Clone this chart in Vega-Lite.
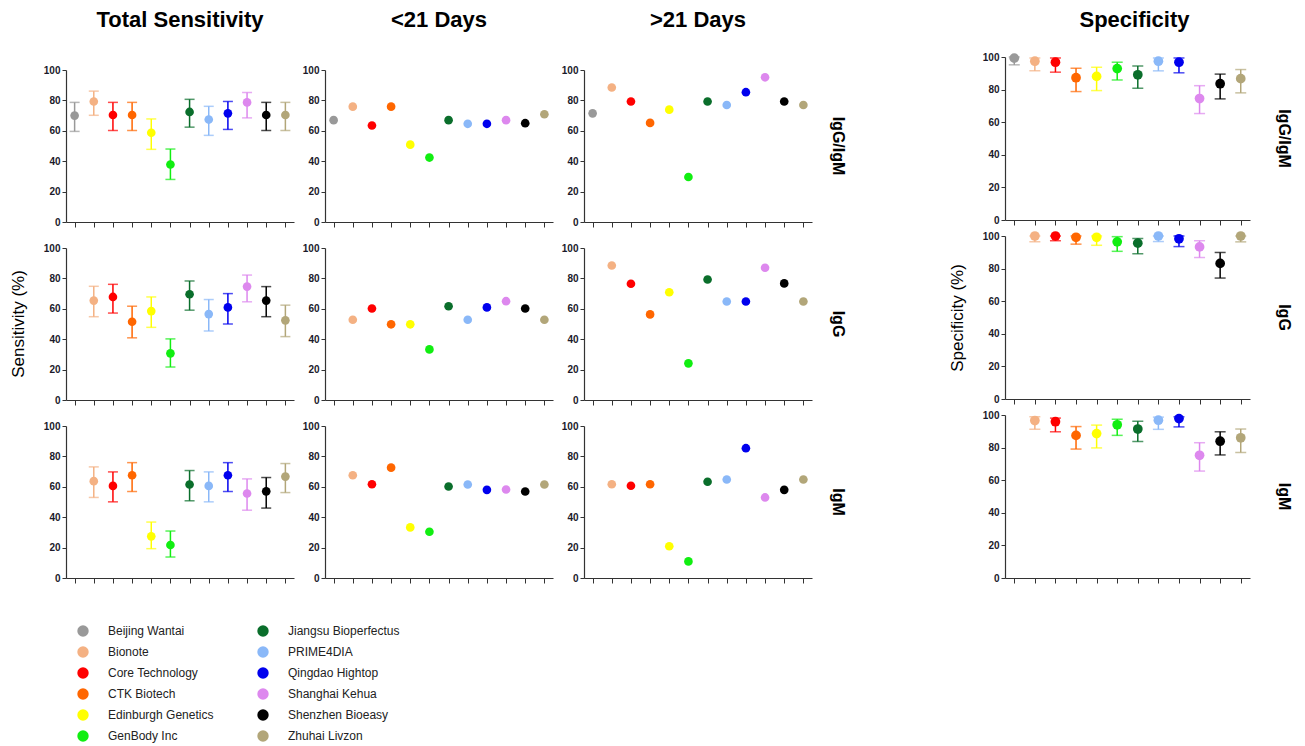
{
  "$schema": "https://vega.github.io/schema/vega-lite/v6.json",
  "background": "white",
  "padding": {"left": 9, "top": 9, "right": 5, "bottom": 5},
  "datasets": {
    "d": [
      {"m":"Beijing Wantai","a":"IgG/IgM","p":"Total Sensitivity","v":70,"lo":59.6,"hi":78.7},
      {"m":"Bionote","a":"IgG/IgM","p":"Total Sensitivity","v":79.3,"lo":70.2,"hi":86.1},
      {"m":"Core Technology","a":"IgG/IgM","p":"Total Sensitivity","v":70.4,"lo":60.2,"hi":78.7},
      {"m":"CTK Biotech","a":"IgG/IgM","p":"Total Sensitivity","v":70.4,"lo":60.2,"hi":78.7},
      {"m":"Edinburgh Genetics","a":"IgG/IgM","p":"Total Sensitivity","v":58.7,"lo":47.8,"hi":67.8},
      {"m":"GenBody Inc","a":"IgG/IgM","p":"Total Sensitivity","v":37.8,"lo":28,"hi":48},
      {"m":"Jiangsu Bioperfectus","a":"IgG/IgM","p":"Total Sensitivity","v":72.4,"lo":62.4,"hi":80.7},
      {"m":"PRIME4DIA","a":"IgG/IgM","p":"Total Sensitivity","v":67.4,"lo":57,"hi":76.1},
      {"m":"Qingdao Hightop","a":"IgG/IgM","p":"Total Sensitivity","v":71.5,"lo":60.9,"hi":79.3},
      {"m":"Shanghai Kehua","a":"IgG/IgM","p":"Total Sensitivity","v":78.7,"lo":68.5,"hi":85.2},
      {"m":"Shenzhen Bioeasy","a":"IgG/IgM","p":"Total Sensitivity","v":70.4,"lo":60.2,"hi":78.7},
      {"m":"Zhuhai Livzon","a":"IgG/IgM","p":"Total Sensitivity","v":70.4,"lo":60.2,"hi":78.7},

      {"m":"Beijing Wantai","a":"IgG/IgM","p":"<21 Days","v":67},
      {"m":"Bionote","a":"IgG/IgM","p":"<21 Days","v":75.9},
      {"m":"Core Technology","a":"IgG/IgM","p":"<21 Days","v":63.5},
      {"m":"CTK Biotech","a":"IgG/IgM","p":"<21 Days","v":75.9},
      {"m":"Edinburgh Genetics","a":"IgG/IgM","p":"<21 Days","v":50.9},
      {"m":"GenBody Inc","a":"IgG/IgM","p":"<21 Days","v":42.4},
      {"m":"Jiangsu Bioperfectus","a":"IgG/IgM","p":"<21 Days","v":67},
      {"m":"PRIME4DIA","a":"IgG/IgM","p":"<21 Days","v":64.6},
      {"m":"Qingdao Hightop","a":"IgG/IgM","p":"<21 Days","v":64.6},
      {"m":"Shanghai Kehua","a":"IgG/IgM","p":"<21 Days","v":67},
      {"m":"Shenzhen Bioeasy","a":"IgG/IgM","p":"<21 Days","v":65},
      {"m":"Zhuhai Livzon","a":"IgG/IgM","p":"<21 Days","v":70.9},

      {"m":"Beijing Wantai","a":"IgG/IgM","p":">21 Days","v":71.5},
      {"m":"Bionote","a":"IgG/IgM","p":">21 Days","v":88.5},
      {"m":"Core Technology","a":"IgG/IgM","p":">21 Days","v":79.3},
      {"m":"CTK Biotech","a":"IgG/IgM","p":">21 Days","v":65.2},
      {"m":"Edinburgh Genetics","a":"IgG/IgM","p":">21 Days","v":73.9},
      {"m":"GenBody Inc","a":"IgG/IgM","p":">21 Days","v":29.6},
      {"m":"Jiangsu Bioperfectus","a":"IgG/IgM","p":">21 Days","v":79.3},
      {"m":"PRIME4DIA","a":"IgG/IgM","p":">21 Days","v":77},
      {"m":"Qingdao Hightop","a":"IgG/IgM","p":">21 Days","v":85.4},
      {"m":"Shanghai Kehua","a":"IgG/IgM","p":">21 Days","v":95.2},
      {"m":"Shenzhen Bioeasy","a":"IgG/IgM","p":">21 Days","v":79.3},
      {"m":"Zhuhai Livzon","a":"IgG/IgM","p":">21 Days","v":77},

      {"m":"Bionote","a":"IgG","p":"Total Sensitivity","v":65.4,"lo":54.8,"hi":74.8},
      {"m":"Core Technology","a":"IgG","p":"Total Sensitivity","v":67.8,"lo":57.2,"hi":76.1},
      {"m":"CTK Biotech","a":"IgG","p":"Total Sensitivity","v":51.5,"lo":40.9,"hi":61.7},
      {"m":"Edinburgh Genetics","a":"IgG","p":"Total Sensitivity","v":58.5,"lo":47.8,"hi":67.8},
      {"m":"GenBody Inc","a":"IgG","p":"Total Sensitivity","v":30.7,"lo":21.7,"hi":40.2},
      {"m":"Jiangsu Bioperfectus","a":"IgG","p":"Total Sensitivity","v":69.6,"lo":59.1,"hi":78.3},
      {"m":"PRIME4DIA","a":"IgG","p":"Total Sensitivity","v":56.5,"lo":45.4,"hi":66.1},
      {"m":"Qingdao Hightop","a":"IgG","p":"Total Sensitivity","v":60.9,"lo":50,"hi":70},
      {"m":"Shanghai Kehua","a":"IgG","p":"Total Sensitivity","v":74.6,"lo":64.6,"hi":82.2},
      {"m":"Shenzhen Bioeasy","a":"IgG","p":"Total Sensitivity","v":65.4,"lo":54.8,"hi":74.6},
      {"m":"Zhuhai Livzon","a":"IgG","p":"Total Sensitivity","v":52.4,"lo":41.7,"hi":62.4},

      {"m":"Bionote","a":"IgG","p":"<21 Days","v":52.8},
      {"m":"Core Technology","a":"IgG","p":"<21 Days","v":60.2},
      {"m":"CTK Biotech","a":"IgG","p":"<21 Days","v":49.8},
      {"m":"Edinburgh Genetics","a":"IgG","p":"<21 Days","v":49.8},
      {"m":"GenBody Inc","a":"IgG","p":"<21 Days","v":33.3},
      {"m":"Jiangsu Bioperfectus","a":"IgG","p":"<21 Days","v":61.7},
      {"m":"PRIME4DIA","a":"IgG","p":"<21 Days","v":52.8},
      {"m":"Qingdao Hightop","a":"IgG","p":"<21 Days","v":60.9},
      {"m":"Shanghai Kehua","a":"IgG","p":"<21 Days","v":65},
      {"m":"Shenzhen Bioeasy","a":"IgG","p":"<21 Days","v":60.2},
      {"m":"Zhuhai Livzon","a":"IgG","p":"<21 Days","v":52.8},

      {"m":"Bionote","a":"IgG","p":">21 Days","v":88.5},
      {"m":"Core Technology","a":"IgG","p":">21 Days","v":76.5},
      {"m":"CTK Biotech","a":"IgG","p":">21 Days","v":56.3},
      {"m":"Edinburgh Genetics","a":"IgG","p":">21 Days","v":70.9},
      {"m":"GenBody Inc","a":"IgG","p":">21 Days","v":24.1},
      {"m":"Jiangsu Bioperfectus","a":"IgG","p":">21 Days","v":79.3},
      {"m":"PRIME4DIA","a":"IgG","p":">21 Days","v":64.8},
      {"m":"Qingdao Hightop","a":"IgG","p":">21 Days","v":64.8},
      {"m":"Shanghai Kehua","a":"IgG","p":">21 Days","v":87},
      {"m":"Shenzhen Bioeasy","a":"IgG","p":">21 Days","v":76.7},
      {"m":"Zhuhai Livzon","a":"IgG","p":">21 Days","v":64.8},

      {"m":"Bionote","a":"IgM","p":"Total Sensitivity","v":63.7,"lo":53,"hi":73.1},
      {"m":"Core Technology","a":"IgM","p":"Total Sensitivity","v":60.6,"lo":50.1,"hi":69.8},
      {"m":"CTK Biotech","a":"IgM","p":"Total Sensitivity","v":67.6,"lo":56.9,"hi":75.9},
      {"m":"Edinburgh Genetics","a":"IgM","p":"Total Sensitivity","v":27.4,"lo":19.3,"hi":36.8},
      {"m":"GenBody Inc","a":"IgM","p":"Total Sensitivity","v":21.7,"lo":13.8,"hi":30.9},
      {"m":"Jiangsu Bioperfectus","a":"IgM","p":"Total Sensitivity","v":61.5,"lo":50.8,"hi":70.7},
      {"m":"PRIME4DIA","a":"IgM","p":"Total Sensitivity","v":60.6,"lo":50.1,"hi":69.8},
      {"m":"Qingdao Hightop","a":"IgM","p":"Total Sensitivity","v":67.6,"lo":56.9,"hi":75.9},
      {"m":"Shanghai Kehua","a":"IgM","p":"Total Sensitivity","v":55.6,"lo":44.6,"hi":65.2},
      {"m":"Shenzhen Bioeasy","a":"IgM","p":"Total Sensitivity","v":57,"lo":46,"hi":66.1},
      {"m":"Zhuhai Livzon","a":"IgM","p":"Total Sensitivity","v":66.7,"lo":56.2,"hi":75.3},

      {"m":"Bionote","a":"IgM","p":"<21 Days","v":67.6},
      {"m":"Core Technology","a":"IgM","p":"<21 Days","v":61.7},
      {"m":"CTK Biotech","a":"IgM","p":"<21 Days","v":72.6},
      {"m":"Edinburgh Genetics","a":"IgM","p":"<21 Days","v":33.3},
      {"m":"GenBody Inc","a":"IgM","p":"<21 Days","v":30.4},
      {"m":"Jiangsu Bioperfectus","a":"IgM","p":"<21 Days","v":60.2},
      {"m":"PRIME4DIA","a":"IgM","p":"<21 Days","v":61.5},
      {"m":"Qingdao Hightop","a":"IgM","p":"<21 Days","v":58},
      {"m":"Shanghai Kehua","a":"IgM","p":"<21 Days","v":58.2},
      {"m":"Shenzhen Bioeasy","a":"IgM","p":"<21 Days","v":56.9},
      {"m":"Zhuhai Livzon","a":"IgM","p":"<21 Days","v":61.5},

      {"m":"Bionote","a":"IgM","p":">21 Days","v":61.7},
      {"m":"Core Technology","a":"IgM","p":">21 Days","v":60.7},
      {"m":"CTK Biotech","a":"IgM","p":">21 Days","v":61.7},
      {"m":"Edinburgh Genetics","a":"IgM","p":">21 Days","v":20.9},
      {"m":"GenBody Inc","a":"IgM","p":">21 Days","v":10.9},
      {"m":"Jiangsu Bioperfectus","a":"IgM","p":">21 Days","v":63.3},
      {"m":"PRIME4DIA","a":"IgM","p":">21 Days","v":64.8},
      {"m":"Qingdao Hightop","a":"IgM","p":">21 Days","v":85.4},
      {"m":"Shanghai Kehua","a":"IgM","p":">21 Days","v":53},
      {"m":"Shenzhen Bioeasy","a":"IgM","p":">21 Days","v":58},
      {"m":"Zhuhai Livzon","a":"IgM","p":">21 Days","v":64.8},

      {"m":"Beijing Wantai","a":"IgG/IgM","p":"Specificity","v":99.3,"lo":95.2,"hi":100},
      {"m":"Bionote","a":"IgG/IgM","p":"Specificity","v":97.4,"lo":91.5,"hi":99.4},
      {"m":"Core Technology","a":"IgG/IgM","p":"Specificity","v":96.8,"lo":90.7,"hi":99.4},
      {"m":"CTK Biotech","a":"IgG/IgM","p":"Specificity","v":87.3,"lo":78.8,"hi":93.1},
      {"m":"Edinburgh Genetics","a":"IgG/IgM","p":"Specificity","v":88.1,"lo":79.4,"hi":93.7},
      {"m":"GenBody Inc","a":"IgG/IgM","p":"Specificity","v":92.9,"lo":85.9,"hi":96.8},
      {"m":"Jiangsu Bioperfectus","a":"IgG/IgM","p":"Specificity","v":89.1,"lo":80.8,"hi":94.5},
      {"m":"PRIME4DIA","a":"IgG/IgM","p":"Specificity","v":97.4,"lo":91.5,"hi":99.4},
      {"m":"Qingdao Hightop","a":"IgG/IgM","p":"Specificity","v":96.8,"lo":90.3,"hi":99.4},
      {"m":"Shanghai Kehua","a":"IgG/IgM","p":"Specificity","v":74.5,"lo":65.3,"hi":82.4},
      {"m":"Shenzhen Bioeasy","a":"IgG/IgM","p":"Specificity","v":83.6,"lo":74.3,"hi":89.5},
      {"m":"Zhuhai Livzon","a":"IgG/IgM","p":"Specificity","v":86.7,"lo":78,"hi":92.3},

      {"m":"Bionote","a":"IgG","p":"Specificity","v":100,"lo":96.4,"hi":100},
      {"m":"Core Technology","a":"IgG","p":"Specificity","v":100,"lo":97.1,"hi":100},
      {"m":"CTK Biotech","a":"IgG","p":"Specificity","v":99.2,"lo":95,"hi":100},
      {"m":"Edinburgh Genetics","a":"IgG","p":"Specificity","v":99.2,"lo":94.3,"hi":100},
      {"m":"GenBody Inc","a":"IgG","p":"Specificity","v":96.4,"lo":90.6,"hi":99.6},
      {"m":"Jiangsu Bioperfectus","a":"IgG","p":"Specificity","v":95.6,"lo":89.1,"hi":98.5},
      {"m":"PRIME4DIA","a":"IgG","p":"Specificity","v":100,"lo":96.6,"hi":100},
      {"m":"Qingdao Hightop","a":"IgG","p":"Specificity","v":98.3,"lo":93.5,"hi":100},
      {"m":"Shanghai Kehua","a":"IgG","p":"Specificity","v":93.3,"lo":86.8,"hi":97.1},
      {"m":"Shenzhen Bioeasy","a":"IgG","p":"Specificity","v":83.2,"lo":74.2,"hi":89.9},
      {"m":"Zhuhai Livzon","a":"IgG","p":"Specificity","v":100,"lo":96.4,"hi":100},

      {"m":"Bionote","a":"IgM","p":"Specificity","v":96.6,"lo":91.2,"hi":98.9},
      {"m":"Core Technology","a":"IgM","p":"Specificity","v":95.9,"lo":89.7,"hi":98.1},
      {"m":"CTK Biotech","a":"IgM","p":"Specificity","v":87.5,"lo":79.1,"hi":92.9},
      {"m":"Edinburgh Genetics","a":"IgM","p":"Specificity","v":88.6,"lo":79.8,"hi":93.8},
      {"m":"GenBody Inc","a":"IgM","p":"Specificity","v":94,"lo":87.5,"hi":97.4},
      {"m":"Jiangsu Bioperfectus","a":"IgM","p":"Specificity","v":91.4,"lo":83.7,"hi":96.1},
      {"m":"PRIME4DIA","a":"IgM","p":"Specificity","v":96.8,"lo":91.2,"hi":98.7},
      {"m":"Qingdao Hightop","a":"IgM","p":"Specificity","v":97.8,"lo":92.7,"hi":98.9},
      {"m":"Shanghai Kehua","a":"IgM","p":"Specificity","v":75.3,"lo":65.6,"hi":83},
      {"m":"Shenzhen Bioeasy","a":"IgM","p":"Specificity","v":83.9,"lo":75.5,"hi":89.7},
      {"m":"Zhuhai Livzon","a":"IgM","p":"Specificity","v":86,"lo":77,"hi":91.4}
    ]
  },
  "hconcat": [
    {
      "vconcat": [
        {
          "data": {"values": [{"t": ""}]},
          "width": 10,
          "height": 1,
          "mark": {"type": "text"},
          "encoding": {"text": {"field": "t", "type": "nominal"}}
        },
        {
          "data": {"name": "d"},
          "transform": [{"filter": "datum.p !== 'Specificity'"}],
          "facet": {
            "row": {
              "field": "a", "type": "nominal", "sort": ["IgG/IgM", "IgG", "IgM"],
              "header": {
                "title": "Sensitivity (%)", "titleOrient": "left", "titleAngle": -90,
                "titleFontSize": 17, "titleFontWeight": "normal", "titleColor": "#000", "titlePadding": -12,
                "labelOrient": "right", "labelAngle": 90, "labelFontSize": 16, "labelFontWeight": "bold",
                "labelColor": "#000", "labelPadding": 18
              }
            },
            "column": {
              "field": "p", "type": "nominal", "sort": ["Total Sensitivity", "<21 Days", ">21 Days"],
              "header": {
                "title": null, "labelFontSize": 22, "labelFontWeight": "bold", "labelColor": "#000", "labelPadding": 33
              }
            }
          },
          "spacing": {"row": 15, "column": 8},
          "resolve": {"axis": {"x": "independent", "y": "independent"}},
          "spec": {
            "width": 228,
            "height": 152,
            "encoding": {
              "x": {
                "field": "m", "type": "nominal",
                "scale": {"type": "point", "padding": 0.45, "domain": ["Beijing Wantai","Bionote","Core Technology","CTK Biotech","Edinburgh Genetics","GenBody Inc","Jiangsu Bioperfectus","PRIME4DIA","Qingdao Hightop","Shanghai Kehua","Shenzhen Bioeasy","Zhuhai Livzon"]},
                "axis": {"labels": false, "title": null, "tickSize": 5}
              },
              "color": {
                "field": "m", "type": "nominal",
                "scale": {
                  "domain": ["Beijing Wantai","Bionote","Core Technology","CTK Biotech","Edinburgh Genetics","GenBody Inc","Jiangsu Bioperfectus","PRIME4DIA","Qingdao Hightop","Shanghai Kehua","Shenzhen Bioeasy","Zhuhai Livzon"],
                  "range": ["#999999","#f4b183","#ff0000","#ff6600","#ffff00","#11ee11","#0a6e2b","#8ab8f8","#0000ee","#dd88ee","#000000","#b2a679"]
                },
                "legend": {
                  "title": null, "orient": "none", "legendX": 11, "legendY": 568, "columns": 2, "direction": "vertical",
                  "symbolType": "circle", "symbolSize": 130, "symbolOpacity": 1, "symbolStrokeWidth": 0,
                  "labelFontSize": 12, "labelColor": "#222", "labelOffset": 19, "columnPadding": 43, "rowPadding": 9
                }
              }
            },
            "layer": [
              {
                "mark": {"type": "rule", "strokeWidth": 1.5},
                "encoding": {
                  "y": {"field": "lo", "type": "quantitative", "scale": {"domain": [0, 100], "nice": false},
                        "axis": {"title": null, "values": [0, 20, 40, 60, 80, 100], "tickCount": 6, "tickSize": 4, "labelOverlap": false}},
                  "y2": {"field": "hi"}
                }
              },
              {"mark": {"type": "tick", "size": 10, "thickness": 1.5}, "encoding": {"y": {"field": "lo", "type": "quantitative", "axis": {"title": null, "values": [0, 20, 40, 60, 80, 100], "tickCount": 6, "tickSize": 4, "labelOverlap": false}}}},
              {"mark": {"type": "tick", "size": 10, "thickness": 1.5}, "encoding": {"y": {"field": "hi", "type": "quantitative", "axis": {"title": null, "values": [0, 20, 40, 60, 80, 100], "tickCount": 6, "tickSize": 4, "labelOverlap": false}}}},
              {
                "mark": {"type": "point", "filled": true, "shape": "circle", "size": 75, "opacity": 1},
                "encoding": {"y": {"field": "v", "type": "quantitative", "axis": {"title": null, "values": [0, 20, 40, 60, 80, 100], "tickCount": 6, "tickSize": 4, "labelOverlap": false}}}
              }
            ]
          }
        }
      ],
      "spacing": -54
    },
    {
      "data": {"name": "d"},
      "transform": [{"filter": "datum.p === 'Specificity'"}],
      "title": {"text": "Specificity", "fontSize": 22, "fontWeight": "bold", "color": "#000", "offset": 20, "anchor": "middle", "frame": "bounds", "dx": 14},
      "facet": {
        "row": {
          "field": "a", "type": "nominal", "sort": ["IgG/IgM", "IgG", "IgM"],
          "header": {
            "title": "Specificity (%)", "titleOrient": "left", "titleAngle": -90,
            "titleFontSize": 17, "titleFontWeight": "normal", "titleColor": "#000", "titlePadding": -12,
            "labelOrient": "right", "labelAngle": 90, "labelFontSize": 16, "labelFontWeight": "bold",
            "labelColor": "#000", "labelPadding": 26
          }
        }
      },
      "spacing": {"row": 5},
      "resolve": {"axis": {"x": "independent", "y": "independent"}},
      "spec": {
        "width": 245,
        "height": 163,
        "encoding": {
          "x": {
            "field": "m", "type": "nominal",
            "scale": {"type": "point", "padding": 0.45, "domain": ["Beijing Wantai","Bionote","Core Technology","CTK Biotech","Edinburgh Genetics","GenBody Inc","Jiangsu Bioperfectus","PRIME4DIA","Qingdao Hightop","Shanghai Kehua","Shenzhen Bioeasy","Zhuhai Livzon"]},
            "axis": {"labels": false, "title": null, "tickSize": 5}
          },
          "color": {"field": "m", "type": "nominal"}
        },
        "layer": [
          {
            "mark": {"type": "rule", "strokeWidth": 1.5},
            "encoding": {
              "y": {"field": "lo", "type": "quantitative", "scale": {"domain": [0, 100], "nice": false},
                    "axis": {"title": null, "values": [0, 20, 40, 60, 80, 100], "tickCount": 6, "tickSize": 4, "labelOverlap": false}},
              "y2": {"field": "hi"}
            }
          },
          {"mark": {"type": "tick", "size": 11, "thickness": 1.5}, "encoding": {"y": {"field": "lo", "type": "quantitative", "axis": {"title": null, "values": [0, 20, 40, 60, 80, 100], "tickCount": 6, "tickSize": 4, "labelOverlap": false}}}},
          {"mark": {"type": "tick", "size": 11, "thickness": 1.5}, "encoding": {"y": {"field": "hi", "type": "quantitative", "axis": {"title": null, "values": [0, 20, 40, 60, 80, 100], "tickCount": 6, "tickSize": 4, "labelOverlap": false}}}},
          {
            "mark": {"type": "point", "filled": true, "shape": "circle", "size": 95, "opacity": 1},
            "encoding": {"y": {"field": "v", "type": "quantitative", "axis": {"title": null, "values": [0, 20, 40, 60, 80, 100], "tickCount": 6, "tickSize": 4, "labelOverlap": false}}}
          }
        ]
      }
    }
  ],
  "spacing": 102,
  "config": {
    "font": "Liberation Sans",
    "view": {"stroke": null},
    "axis": {
      "grid": false, "domainColor": "#333333", "tickColor": "#333333", "domainWidth": 1.2, "tickWidth": 1,
      "labelColor": "#1a1a2a", "labelFontWeight": "bold", "labelFontSize": 10, "labelFont": "Liberation Sans"
    },
    "axisY": {"labelOverlap": false, "tickCount": 6},
    "title": {"font": "Liberation Sans"},
    "header": {"labelFont": "Liberation Sans", "titleFont": "Liberation Sans"},
    "legend": {"labelFont": "Liberation Sans", "symbolOpacity": 1}
  }
}
